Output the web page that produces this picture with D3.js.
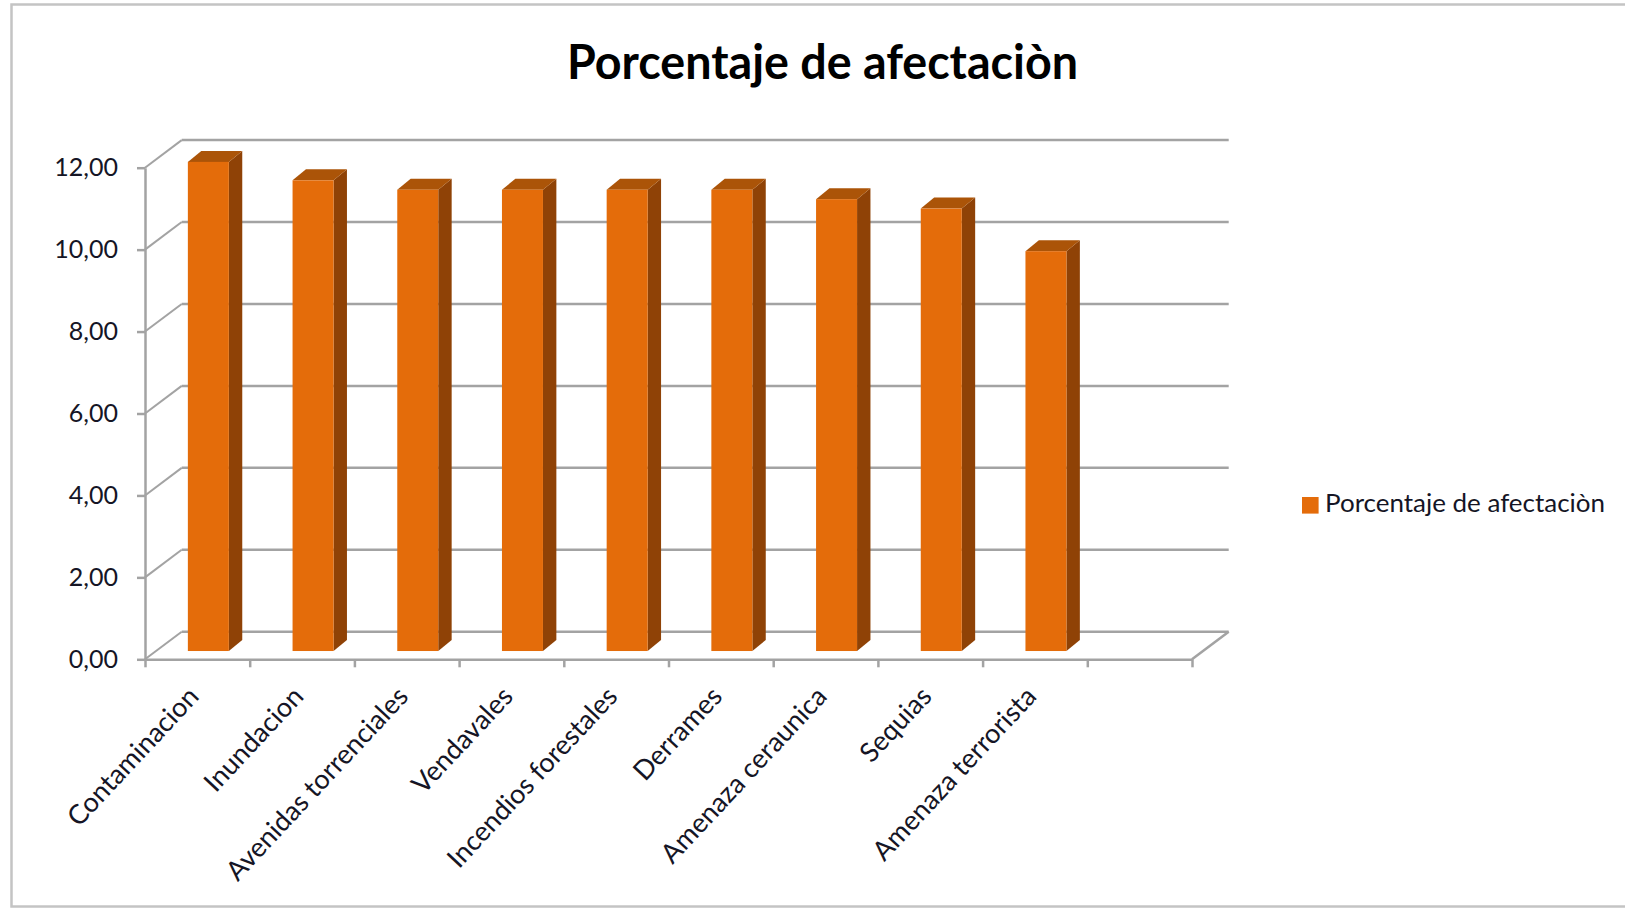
<!DOCTYPE html>
<html>
<head>
<meta charset="utf-8">
<script src="https://cdn.jsdelivr.net/npm/d3@7"></script>
<style>
  body { margin: 0; background: #fff; }
  text { font-family: Lato, "Open Sans", sans-serif; }
</style>
</head>
<body>
<div id="chart"></div>
<script>
// Categories (Excel sheet had one empty trailing row, so 10 slots)
const categories = ["Contaminacion", "Inundacion", "Avenidas torrenciales", "Vendavales",
    "Incendios forestales", "Derrames", "Amenaza ceraunica", "Sequias", "Amenaza terrorista"];
const values = [11.94, 11.49, 11.26, 11.26, 11.26, 11.26, 11.03, 10.80, 9.76];
const yTicks = [0, 2, 4, 6, 8, 10, 12];
const seriesName = "Porcentaje de afectaciòn";
const title = "Porcentaje de afectaciòn";
const slotCount = 10;

const W = 1625, H = 909;
const svg = d3.select("#chart").append("svg")
    .attr("width", W).attr("height", H);

// outer chart border
svg.append("rect")
    .attr("x", 11.5).attr("y", 4.5).attr("width", 1700).attr("height", 902)
    .attr("fill", "none").attr("stroke", "#c4c4c4").attr("stroke-width", 2.5);

// 3D plot frame
const left = 145, right = 1192;
const DX = 36.7, DY = -27.6;      // wall depth
const y = d3.scaleLinear().domain([0, 12]).range([659.3, 167.7]);
const xb = d3.scaleLinear().domain([0, slotCount]).range([left, right]);
const x = d3.scaleBand().domain(d3.range(slotCount)).range([left, right]);
const fmt = d3.formatLocale({ decimal: ",", thousands: ".", grouping: [3], currency: ["", ""] }).format(".2f");

const gridColor = "#a3a3a3";

// back wall gridlines
svg.append("g").selectAll("line")
    .data(yTicks).join("line")
    .attr("x1", left + DX).attr("x2", right + DX)
    .attr("y1", d => y(d) + DY).attr("y2", d => y(d) + DY)
    .attr("stroke", gridColor).attr("stroke-width", 2.5);

// left wall diagonals
svg.append("g").selectAll("line")
    .data(yTicks).join("line")
    .attr("x1", left).attr("x2", left + DX)
    .attr("y1", d => y(d)).attr("y2", d => y(d) + DY)
    .attr("stroke", gridColor).attr("stroke-width", 2);

// floor right edge
svg.append("line")
    .attr("x1", right).attr("y1", y(0))
    .attr("x2", right + DX).attr("y2", y(0) + DY)
    .attr("stroke", gridColor).attr("stroke-width", 2.5);

// bars (front face sits a bit into the depth)
const f = 0.3, bw = 41, bdx = 13.4, bdy = -11;
const bars = svg.append("g").selectAll("g")
    .data(values).join("g");

const fx0 = (d, i) => x(i) + x.bandwidth() / 2 + f * DX - bw / 2;
const barBase = y(0) + f * DY;
const barTop = d => y(d) + f * DY;

bars.append("polygon") // side
    .attr("points", (d, i) => {
        const a = fx0(d, i) + bw;
        return [[a, barTop(d)], [a + bdx, barTop(d) + bdy], [a + bdx, barBase + bdy], [a, barBase]].join(" ");
    })
    .attr("fill", "#8f4206");

bars.append("polygon") // top
    .attr("points", (d, i) => {
        const a = fx0(d, i), b = a + bw, t = barTop(d);
        return [[a, t], [a + bdx, t + bdy], [b + bdx, t + bdy], [b, t]].join(" ");
    })
    .attr("fill", "#ab5408");

bars.append("rect") // front
    .attr("x", fx0)
    .attr("y", d => barTop(d))
    .attr("width", bw)
    .attr("height", d => barBase - barTop(d))
    .attr("fill", "#e46c0a");

// y axis (front edge)
const yAxis = svg.append("g")
    .attr("transform", `translate(${left},0)`)
    .call(d3.axisLeft(y).tickValues(yTicks).tickFormat(fmt)
        .tickSize(8).tickSizeOuter(0).tickPadding(19));
yAxis.select(".domain").attr("stroke", gridColor).attr("stroke-width", 2.5);
yAxis.selectAll(".tick line").attr("stroke", gridColor).attr("stroke-width", 2.5);
yAxis.selectAll(".tick text")
    .attr("fill", "#151525").style("font-size", "25px");

// x axis (front floor edge)
const xAxis = svg.append("g")
    .attr("transform", `translate(0,${y(0)})`)
    .call(d3.axisBottom(xb).tickValues(d3.range(slotCount + 1)).tickFormat("")
        .tickSize(8).tickSizeOuter(0));
xAxis.select(".domain").attr("stroke", gridColor).attr("stroke-width", 2.5);
xAxis.selectAll(".tick line").attr("stroke", gridColor).attr("stroke-width", 2.5);

// category labels, rotated
svg.append("g").selectAll("text")
    .data(categories).join("text")
    .attr("transform", (d, i) => `translate(${x(i) + x.bandwidth() / 2 - 4},${y(0) + 32}) rotate(-47)`)
    .attr("text-anchor", "end")
    .attr("dy", "0.35em")
    .attr("fill", "#151525")
    .style("font-size", "27px")
    .text(d => d);

// title
svg.append("text")
    .attr("x", 822.5).attr("y", 78.5)
    .attr("text-anchor", "middle")
    .attr("textLength", 511).attr("lengthAdjust", "spacingAndGlyphs")
    .style("font-size", "48px").style("font-weight", "bold")
    .attr("fill", "#000")
    .text(title);

// legend
svg.append("rect")
    .attr("x", 1302).attr("y", 497).attr("width", 16.6).attr("height", 16.6)
    .attr("fill", "#e46c0a");
svg.append("text")
    .attr("x", 1325).attr("y", 512)
    .attr("textLength", 280).attr("lengthAdjust", "spacingAndGlyphs")
    .style("font-size", "25px")
    .attr("fill", "#151525")
    .text(seriesName);
</script>
</body>
</html>
